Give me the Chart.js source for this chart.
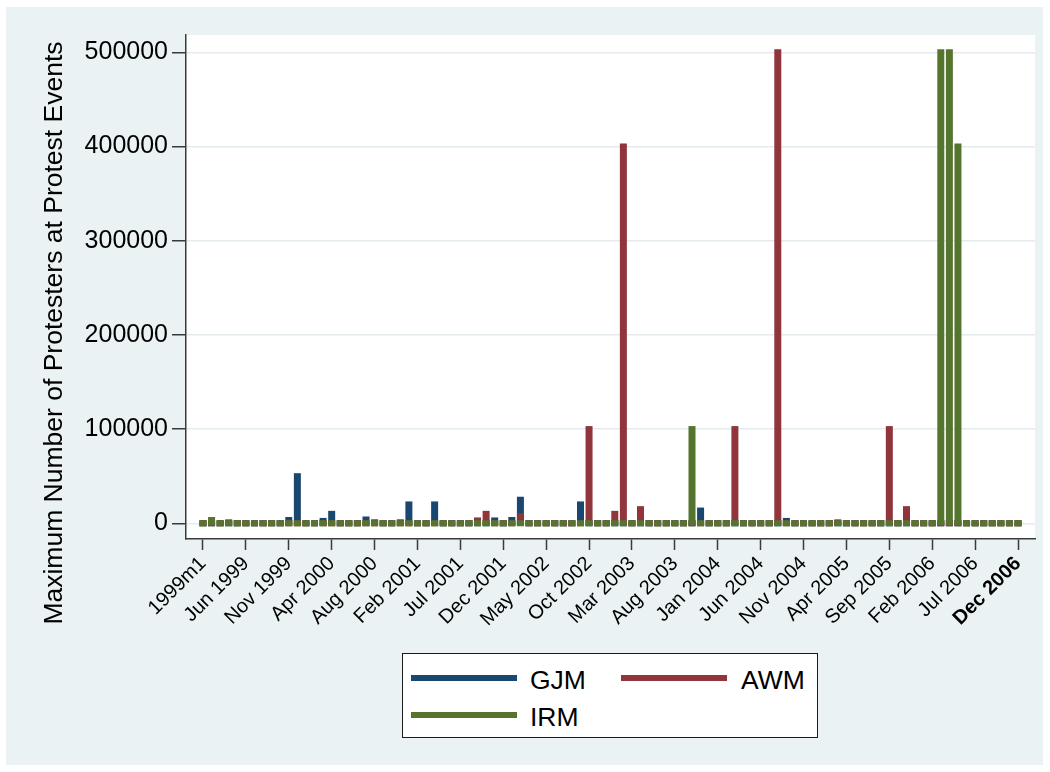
<!DOCTYPE html>
<html>
<head>
<meta charset="utf-8">
<script src="https://cdn.jsdelivr.net/npm/chart.js@4.4.1/dist/chart.umd.min.js"></script>
<style>
  html, body { margin: 0; padding: 0; background: #ffffff; }
  #frame { position: absolute; left: 6px; top: 7px; width: 1037px; height: 758px; background: #eaf2f3; }
  #wrap { position: absolute; left: 0; top: 0; width: 1050px; height: 772px; }
  #ytitle {
    position: absolute; left: -297px; top: 318px; width: 700px; height: 30px;
    line-height: 30px; text-align: center; white-space: nowrap;
    font-family: 'Liberation Sans', Arial, sans-serif; font-size: 26.5px; color: #000;
    transform: rotate(-90deg); transform-origin: 50% 50%;
  }
  #legend {
    position: absolute; left: 402px; top: 653px; width: 416px; height: 85px;
    background: #ffffff; border: 1.5px solid #1a1a1a; box-sizing: border-box;
  }
  .swatch { position: absolute; height: 6px; width: 106px; }
  .ltext {
    position: absolute; line-height: 30px; white-space: nowrap;
    font-family: 'Liberation Sans', Arial, sans-serif; font-size: 26.5px; color: #000;
  }
</style>
</head>
<body>
<div id="frame"></div>
<div id="wrap"><canvas id="chart" width="1050" height="772"></canvas></div>
<div id="ytitle">Maximum Number of Protesters at Protest Events</div>
<div id="legend"></div>
<script>
// Monthly maxima, January 1999 through December 2006 (96 months, 12 per row)
const gjm = [
  0, 0, 0, 0, 0, 0, 0, 0, 0, 0, 3500, 50000,
  0, 0, 2500, 10000, 0, 0, 0, 4000, 1000, 0, 0, 1000,
  20000, 0, 0, 20000, 0, 0, 0, 0, 0, 0, 3000, 0,
  3500, 25000, 0, 0, 0, 0, 0, 0, 20000, 0, 0, 0,
  0, 0, 0, 0, 0, 0, 0, 0, 0, 0, 13500, 0,
  0, 0, 0, 0, 0, 0, 0, 0, 2500, 0, 0, 0,
  0, 0, 0, 0, 0, 0, 0, 0, 0, 0, 0, 0,
  0, 0, 0, 0, 0, 0, 0, 0, 0, 0, 0, 0
];
const awm = [
  0, 0, 0, 1000, 0, 0, 0, 0, 0, 0, 0, 0,
  0, 0, 0, 0, 0, 0, 0, 0, 0, 0, 0, 0,
  0, 0, 0, 0, 0, 0, 0, 0, 3000, 10000, 0, 0,
  0, 7500, 0, 0, 0, 0, 0, 0, 0, 100000, 0, 0,
  10000, 400000, 0, 15000, 0, 0, 0, 0, 0, 0, 0, 0,
  0, 0, 100000, 0, 0, 0, 0, 500000, 0, 0, 0, 0,
  0, 0, 1000, 0, 0, 0, 0, 0, 100000, 0, 15000, 0,
  0, 0, 0, 0, 0, 0, 0, 0, 0, 0, 0, 0
];
const irm = [
  0, 3500, 0, 0, 0, 0, 0, 0, 0, 0, 0, 0,
  0, 0, 0, 0, 0, 0, 0, 0, 0, 0, 0, 0,
  0, 0, 0, 0, 0, 0, 0, 0, 0, 0, 0, 0,
  0, 0, 0, 0, 0, 0, 0, 0, 0, 0, 0, 0,
  0, 0, 0, 0, 0, 0, 0, 0, 0, 100000, 0, 0,
  0, 0, 0, 0, 0, 0, 0, 0, 0, 0, 0, 0,
  0, 0, 0, 0, 0, 0, 0, 0, 0, 0, 0, 0,
  0, 0, 500000, 500000, 400000, 0, 0, 0, 0, 0, 0, 0
];

// Every fifth month carries a label
const tickLabels = [
  '1999m1', 'Jun 1999', 'Nov 1999', 'Apr 2000', 'Aug 2000', 'Feb 2001', 'Jul 2001',
  'Dec 2001', 'May 2002', 'Oct 2002', 'Mar 2003', 'Aug 2003', 'Jan 2004', 'Jun 2004',
  'Nov 2004', 'Apr 2005', 'Sep 2005', 'Feb 2006', 'Jul 2006', 'Dec 2006'
];
const tickStep = 5;
const yTicks = [0, 100000, 200000, 300000, 400000, 500000];

const seriesNames = ['GJM', 'AWM', 'IRM'];
const seriesColors = ['#1a476f', '#90353b', '#55752f'];
const seriesData = [gjm, awm, irm];

const FONT = "'Liberation Sans', Arial, sans-serif";
const AXIS = '#3a3a3a';

const toPoints = arr => arr.map((v, i) => ({ x: i, y: v }));

const plotBackground = {
  id: 'plotBackground',
  beforeDraw(chart) {
    const { ctx, chartArea: a } = chart;
    ctx.save();
    ctx.fillStyle = '#ffffff';
    ctx.fillRect(a.left, a.top, a.right - a.left, a.bottom - a.top);
    ctx.restore();
  }
};

new Chart(document.getElementById('chart'), {
  type: 'bar',
  data: {
    datasets: seriesNames.map((name, k) => ({
      label: name,
      data: toPoints(seriesData[k]),
      backgroundColor: seriesColors[k],
      borderWidth: 0,
      barThickness: 1,
      inflateAmount: 3,
      grouped: false,
      order: 3 - k
    }))
  },
  options: {
    responsive: false,
    animation: false,
    events: [],
    layout: { padding: { left: 0, top: 35, right: 15, bottom: 113 } },
    plugins: { legend: { display: false }, tooltip: { enabled: false } },
    scales: {
      x: {
        type: 'linear',
        offset: false,
        min: -1.98,
        max: 96.98,
        afterBuildTicks: s => { s.ticks = tickLabels.map((_, i) => ({ value: i * tickStep })); },
        afterFit: s => { s.height = 120; },
        grid: { display: true, offset: false, drawOnChartArea: false, drawTicks: true, tickLength: 11, tickColor: AXIS, tickWidth: 1.5 },
        border: { display: true, color: AXIS, width: 1.5 },
        ticks: {
          autoSkip: false,
          minRotation: 45,
          maxRotation: 45,
          padding: 2,
          color: '#000',
          font: ctx => ({ family: FONT, size: 20, weight: ctx.index === tickLabels.length - 1 ? 'bold' : 'normal' }),
          callback: (v, i) => tickLabels[i]
        }
      },
      y: {
        min: -16700,
        max: 518400,
        afterBuildTicks: s => { s.ticks = yTicks.map(v => ({ value: v })); },
        afterFit: s => { s.width = 186; },
        grid: { color: '#e3ebee', lineWidth: 1.5, drawTicks: true, tickLength: 14, tickColor: AXIS, tickWidth: 1.5 },
        border: { display: true, color: AXIS, width: 1.5 },
        ticks: {
          padding: 4,
          color: '#000',
          font: { family: FONT, size: 25 },
          callback: v => String(v)
        }
      }
    }
  },
  plugins: [plotBackground]
});

// Legend: two columns of line keys
const legend = document.getElementById('legend');
const legendSlots = [
  { sx: 8, tx: 127, ly: 21, ty: 11 },
  { sx: 218, tx: 338, ly: 21, ty: 11 },
  { sx: 8, tx: 127, ly: 58, ty: 48 }
];
seriesNames.forEach((name, k) => {
  const p = legendSlots[k];
  const sw = document.createElement('div');
  sw.className = 'swatch';
  sw.style.left = p.sx + 'px';
  sw.style.top = p.ly + 'px';
  sw.style.background = seriesColors[k];
  legend.appendChild(sw);
  const t = document.createElement('div');
  t.className = 'ltext';
  t.style.left = p.tx + 'px';
  t.style.top = p.ty + 'px';
  t.textContent = name;
  legend.appendChild(t);
});
</script>
</body>
</html>
